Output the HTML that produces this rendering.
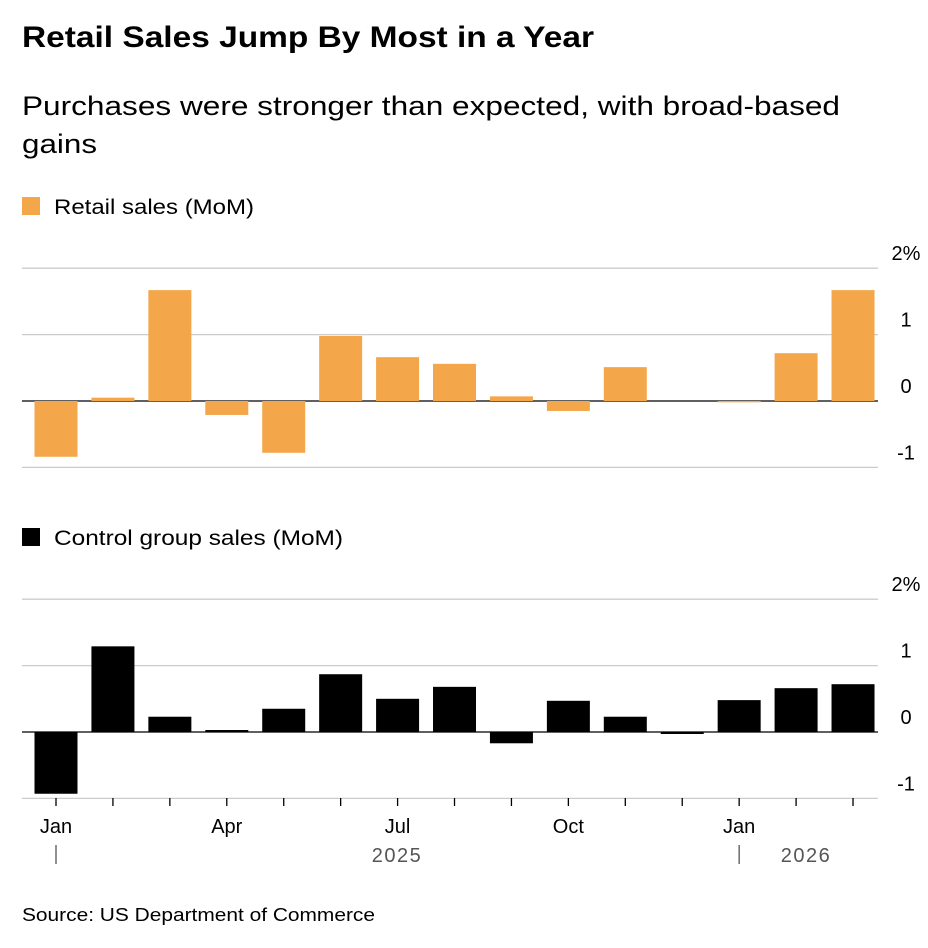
<!DOCTYPE html>
<html><head><meta charset="utf-8"><style>
body{margin:0;background:#fff;width:928px;height:943px;overflow:hidden;font-family:"Liberation Sans",Arial,sans-serif;color:#000}
svg text{font-family:"Liberation Sans",Arial,sans-serif}
</style></head><body>
<svg id="c" width="928" height="943">
<text x="22" y="47" font-size="30" font-weight="bold" textLength="572" lengthAdjust="spacingAndGlyphs">Retail Sales Jump By Most in a Year</text>
<text x="22" y="115" font-size="27" textLength="818" lengthAdjust="spacingAndGlyphs">Purchases were stronger than expected, with broad-based</text>
<text x="22" y="153" font-size="27" textLength="75" lengthAdjust="spacingAndGlyphs">gains</text>
<rect x="22" y="197" width="18" height="18" fill="#f4a64a"/>
<text x="54" y="214" font-size="21" textLength="200" lengthAdjust="spacingAndGlyphs">Retail sales (MoM)</text>
<rect x="22" y="528" width="18" height="18" fill="#000"/>
<text x="54" y="545" font-size="21" textLength="289" lengthAdjust="spacingAndGlyphs">Control group sales (MoM)</text>
<text x="22" y="921" font-size="18" textLength="353" lengthAdjust="spacingAndGlyphs">Source: US Department of Commerce</text>
<g id="g"></g>
</svg>
<script>
const months=["Jan","Feb","Mar","Apr","May","Jun","Jul","Aug","Sep","Oct","Nov","Dec","Jan","Feb","Mar"];
const retailValues=[-0.84,0.05,1.67,-0.21,-0.78,0.98,0.66,0.56,0.07,-0.15,0.51,0,-0.02,0.72,1.67];
const controlValues=[-0.93,1.29,0.23,0.03,0.35,0.87,0.5,0.68,-0.17,0.47,0.23,-0.03,0.48,0.66,0.72];
const yTicks=[2,1,0,-1];
const yTickLabels=["2%","1","0","-1"];
const xLabelIdx=[0,3,6,9,12];
const ns="http://www.w3.org/2000/svg",g=document.getElementById("g");
function el(t,a,p){const e=document.createElementNS(ns,t);for(const k in a)e.setAttribute(k,a[k]);(p||g).appendChild(e);return e;}
const xs=i=>56+i*56.93;
function panel(vals,zeroY,color,name){
  const ys=v=>zeroY-v*66.4;
  yTicks.forEach((t,i)=>{
    const l=el("line",{x1:22,x2:878,y1:ys(t),y2:ys(t),stroke:t===0?"#000":"#ccc","stroke-width":1.3});
    
    
    const tx=el("text",{x:906,y:ys(t)-8,"font-size":20,"text-anchor":"middle",fill:"#000"});
    tx.textContent=yTickLabels[i];
    
    
  });
  vals.forEach((v,i)=>{
    const y0=ys(0),y1=ys(v);
    const r=el("rect",{x:xs(i)-21.5,width:43,y:Math.min(y0,y1),height:Math.abs(y1-y0),fill:color});
    
    
  });
}
panel(retailValues,401,"#f4a64a","retail");
panel(controlValues,732,"#000","control");
months.forEach((m,i)=>{
  const t=el("line",{x1:xs(i),x2:xs(i),y1:798,y2:806,stroke:"#000","stroke-width":1.3});
  
  
});
xLabelIdx.forEach(i=>{
  const tx=el("text",{x:xs(i),y:833,"font-size":20,"text-anchor":"middle"});
  tx.textContent=months[i];
  
  
});
[[0],[12]].forEach(([i])=>{
  const l=el("line",{x1:xs(i),x2:xs(i),y1:845,y2:864,stroke:"#555","stroke-width":1.3});
  
  
});
[["2025",397],["2026",806]].forEach(([t,x])=>{
  const tx=el("text",{x:x,y:862,"font-size":20,"text-anchor":"middle",fill:"#555","letter-spacing":"1.5"});
  tx.textContent=t;
  
  
});
</script>
</body></html>
